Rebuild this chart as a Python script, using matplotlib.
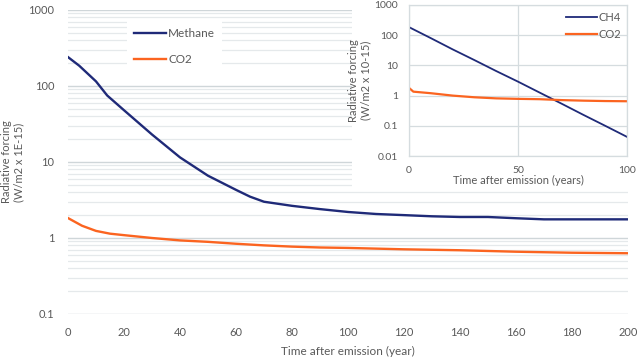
import numpy as np
import matplotlib
matplotlib.use("Agg")
import matplotlib.pyplot as plt
from matplotlib.patches import Rectangle
from matplotlib.ticker import LogLocator, NullFormatter, FixedLocator, FixedFormatter

plt.rcParams['font.family'] = ['Lato', 'DejaVu Sans']

# main chart: 200 years
years = [0, 4, 10, 14, 20, 30, 40, 50, 60, 65, 70, 80, 90, 100, 110, 120,
         130, 140, 150, 160, 170, 180, 190, 200]
methane = [240, 185, 115, 75, 48, 23, 11.5, 6.6, 4.3, 3.5, 3.0, 2.65, 2.4, 2.2,
           2.07, 2.0, 1.93, 1.89, 1.89, 1.82, 1.76, 1.76, 1.76, 1.76]
co2_years = [0, 5, 10, 15, 20, 30, 40, 50, 60, 70, 80, 90, 100, 120, 140,
             160, 180, 200]
co2 = [1.83, 1.45, 1.24, 1.14, 1.09, 1.0, 0.93, 0.89, 0.84, 0.8, 0.77, 0.75,
       0.74, 0.71, 0.69, 0.66, 0.64, 0.63]

# inset: 100 years
ins_years = [0, 10, 20, 30, 40, 50, 60, 70, 80, 90, 100]
ins_ch4 = [185, 80, 34, 15, 6.5, 2.9, 1.25, 0.54, 0.23, 0.10, 0.043]
ins_co2_years = [0, 2, 10, 20, 30, 40, 50, 60, 70, 80, 90, 100]
ins_co2 = [1.8, 1.35, 1.2, 1.0, 0.88, 0.81, 0.78, 0.76, 0.71, 0.68, 0.66, 0.65]

navy = '#1f2a78'
orange = '#fb6420'
txt = '#595959'

fig = plt.figure(figsize=(6.4, 3.59), dpi=100)
ax = fig.add_axes([68/640, 1-314/359, 560/640, 304/359])
ax.set_zorder(0)

ax.plot(years, methane, color=navy, lw=1.7, label='Methane')
ax.plot(co2_years, co2, color=orange, lw=1.7, label='CO2')
ax.set_yscale('log')
ax.set_ylim(0.1, 1000)
ax.set_xlim(0, 200)
ax.set_xticks(range(0, 201, 20))
ax.yaxis.set_major_locator(FixedLocator([0.1, 1, 10, 100, 1000]))
ax.yaxis.set_major_formatter(FixedFormatter(['0.1', '1', '10', '100', '1000']))
ax.yaxis.set_minor_locator(LogLocator(base=10, subs=np.arange(2, 10)))
ax.yaxis.set_minor_formatter(NullFormatter())
ax.grid(True, which='major', axis='y', color='#cfd6d9', lw=1.0)
ax.grid(True, which='minor', axis='y', color='#e5e9eb', lw=0.9)
ax.set_axisbelow(True)
for s in ax.spines.values():
    s.set_visible(False)
ax.tick_params(which='both', length=0, labelsize=8, colors=txt)
ax.tick_params(axis='y', pad=10)
ax.tick_params(axis='x', pad=9)
ax.set_xlabel('Time after emission (year)', fontsize=8.5, color=txt, labelpad=6)
ax.set_ylabel('Radiative forcing\n(W/m2 x 1E-15)', fontsize=8, color=txt)
ax.yaxis.set_label_coords(-0.078, 0.5)
leg = ax.legend(loc='upper left', bbox_to_anchor=(0.105, 0.965), borderaxespad=0,
                frameon=True, facecolor='white', edgecolor='none', framealpha=1,
                fancybox=False, fontsize=8.5, labelspacing=1.3, handlelength=2.7,
                handletextpad=0.2, borderpad=0.6)
for t in leg.get_texts():
    t.set_color(txt)

# white background behind the inset
fig.patches.append(Rectangle((352/640, 1-190/359), 288/640, 190/359,
                             transform=fig.transFigure, facecolor='white',
                             edgecolor='none', zorder=1))

ins = fig.add_axes([409/640, 1-156/359, 218/640, 151/359])
ins.set_zorder(2)
ins.plot(ins_years, ins_ch4, color=navy, lw=1.3, label='CH4')
ins.plot(ins_co2_years, ins_co2, color=orange, lw=1.6, label='CO2')
ins.set_yscale('log')
ins.set_ylim(0.01, 1000)
ins.set_xlim(0, 100)
ins.set_xticks([0, 50, 100])
ins.yaxis.set_major_locator(FixedLocator([0.01, 0.1, 1, 10, 100, 1000]))
ins.yaxis.set_major_formatter(FixedFormatter(['0.01', '0.1', '1', '10', '100', '1000']))
ins.yaxis.set_minor_locator(FixedLocator([]))
ins.grid(True, color='#d5dcdf', lw=0.9)
ins.set_axisbelow(True)
for s in ins.spines.values():
    s.set_color('#d5dcdf')
    s.set_linewidth(0.9)
ins.tick_params(which='both', length=0, labelsize=7.5, colors=txt)
ins.tick_params(axis='y', pad=8)
ins.tick_params(axis='x', pad=7)
ins.set_xlabel('Time after emission (years)', fontsize=8, color=txt, labelpad=0)
ins.set_ylabel('Radiative forcing\n(W/m2 x 10-15)', fontsize=8, color=txt, labelpad=2)
leg2 = ins.legend(loc='upper right', bbox_to_anchor=(0.995, 0.985), borderaxespad=0,
                  frameon=False, fontsize=8, labelspacing=0.6, handlelength=2.8,
                  handletextpad=0.2)
for t in leg2.get_texts():
    t.set_color(txt)

fig.savefig('out.png', dpi=100)
